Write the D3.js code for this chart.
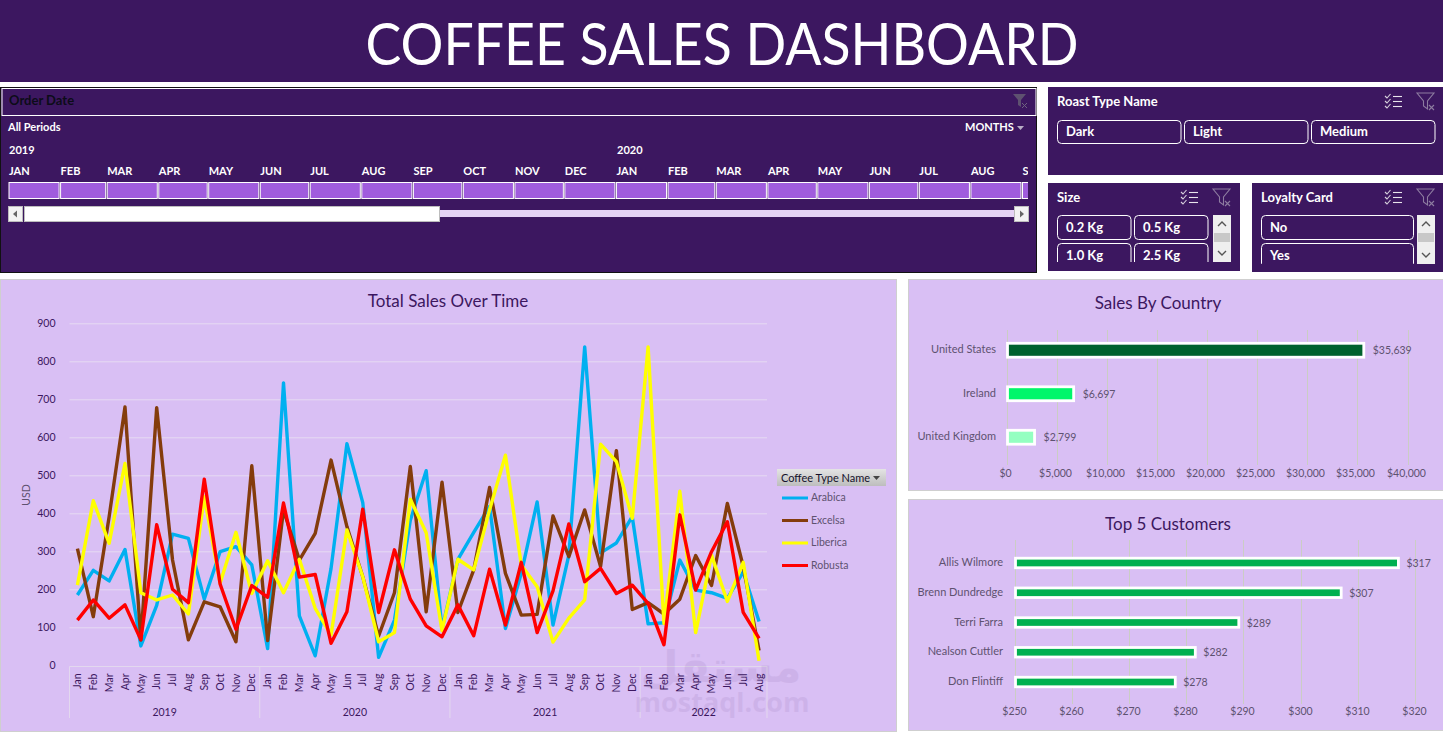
<!DOCTYPE html>
<html>
<head>
<meta charset="utf-8">
<title>Coffee Sales Dashboard</title>
<script src="https://cdn.jsdelivr.net/npm/d3@7"></script>
<style>
  html, body { margin: 0; padding: 0; background: #fff; overflow: hidden; }
  svg { display: block; font-family: Lato, "Open Sans", sans-serif; }
  .domain { display: none; }
</style>
</head>
<body>
<div id="chart"></div>
<script>
// data
const years = ["2019", "2020", "2021", "2022"];
const monthNames = ["Jan","Feb","Mar","Apr","May","Jun","Jul","Aug","Sep","Oct","Nov","Dec"];
const monthsPerYear = [12, 12, 12, 8];

const arabica = [185,250,222,305,51,158,345,334,174,299,312,264,
  44,743,130,25,255,583,428,21,119,382,512,95,
  279,350,418,97,242,430,106,290,838,296,322,391,
  109,112,277,198,191,176,246,115];
const excelsa = [307,128,391,680,67,678,277,67,167,154,62,525,
  65,409,277,347,540,365,233,77,191,523,141,482,
  139,251,468,242,132,134,393,286,409,260,565,147,
  165,135,174,289,210,426,260,39];
const liberica = [211,433,321,531,191,172,185,135,444,216,350,189,
  275,191,279,150,80,356,233,62,86,437,349,91,
  279,251,409,553,264,207,61,124,172,582,536,387,
  838,110,458,86,290,168,271,12];
const robusta = [119,172,124,159,67,370,200,165,490,214,95,210,
  179,427,232,239,58,141,411,139,304,174,104,75,
  159,78,253,106,271,86,196,372,220,255,189,211,
  163,54,396,198,299,378,139,71];

const seriesNames = ["Arabica", "Excelsa", "Liberica", "Robusta"];
const seriesValues = [arabica, excelsa, liberica, robusta];
const seriesColors = ["#00b0f0", "#843c0c", "#ffff00", "#ff0000"];
const salesTicks = [0,100,200,300,400,500,600,700,800,900];

const countries = ["United States", "Ireland", "United Kingdom"];
const countrySales = [35639, 6697, 2799];
const countryColors = ["#00612e", "#00f66b", "#94ffc1"];
const countryTicks = [0,5000,10000,15000,20000,25000,30000,35000,40000];

const customers = ["Allis Wilmore", "Brenn Dundredge", "Terri Farra", "Nealson Cuttler", "Don Flintiff"];
const customerSales = [317.1, 307.1, 289.2, 281.6, 278.1];
const customerTicks = [250,260,270,280,290,300,310,320];

const roastTypes = ["Dark", "Light", "Medium"];
const sizes = ["0.2 Kg", "0.5 Kg", "1.0 Kg", "2.5 Kg"];
const loyalty = ["No", "Yes"];

const purple = "#3c1760";
const lilac = "#d9bff4";
const greyText = "#5e5270";

const svg = d3.select("#chart").append("svg").attr("width", 1443).attr("height", 732);

function panel(x, y, w, h, fill, stroke) {
  return svg.append("rect").attr("x", x).attr("y", y).attr("width", w).attr("height", h)
    .attr("fill", fill).attr("stroke", stroke || "none");
}

function label(parent, x, y, str, size, color, weight, anchor) {
  return parent.append("text").attr("x", x).attr("y", y).text(str)
    .attr("font-size", size).attr("fill", color)
    .attr("font-weight", weight || 400).attr("text-anchor", anchor || "start");
}

// checklist + cleared filter icons on the slicers
function slicerIcons(x, y) {
  const g = svg.append("g").attr("transform", "translate(" + x + "," + y + ")")
    .attr("fill", "none").attr("stroke-width", 1.1);
  [1, 6, 11].forEach(d => {
    g.append("path").attr("d", "M0 " + d + "l2 2l3.5 -4").attr("stroke", "#d8d2dd");
    g.append("path").attr("d", "M8 " + (d + 0.5) + "h9").attr("stroke", "#e8e4ec");
  });
  g.append("path").attr("d", "M32 -2h17l-6.5 8v8l-4 -3v-5z").attr("stroke", "#8d7ca0");
  g.append("path").attr("d", "M44 10l5 5m0 -5l-5 5").attr("stroke", "#8d7ca0");
}

function slicerButton(parent, x, y, w, h, str, textY) {
  parent.append("rect").attr("x", x + 0.5).attr("y", y + 0.5).attr("width", w).attr("height", h)
    .attr("rx", 4).attr("fill", "none").attr("stroke", "#fff");
  label(parent, x + 9, y + textY, str, 13, "#fff", 700);
}

function scrollbar(x, y, h) {
  panel(x, y, 18, h, "#efefef");
  panel(x + 1, y + 18, 16, 9, "#c8c8c8");
  svg.append("path").attr("d", "M" + (x + 5) + " " + (y + 11) + "l4 -4l4 4").attr("fill", "none").attr("stroke", "#555").attr("stroke-width", 1.4);
  svg.append("path").attr("d", "M" + (x + 5) + " " + (y + h - 11) + "l4 4l4 -4").attr("fill", "none").attr("stroke", "#555").attr("stroke-width", 1.4);
}

// snap vertical grid lines to whole pixels so they all look the same
function snapTicks(g, scale) {
  g.selectAll(".tick").attr("transform", d => "translate(" + (Math.round(scale(d)) + 0.5) + ",0)");
  g.selectAll(".tick line").attr("stroke", "#cbcdc4");
}

// header
panel(0, 0, 1443, 82, purple);
label(svg, 722, 65, "COFFEE SALES DASHBOARD", 58, "#fff", 400, "middle")
  .attr("textLength", 713).attr("lengthAdjust", "spacingAndGlyphs");

// ---- timeline ----
panel(0.5, 87.5, 1036, 185, purple, "#111");
panel(2, 88.5, 1034, 27, purple, "#fff");
label(svg, 9, 105, "Order Date", 13, "#0c0c18", 700);
svg.append("path").attr("d", "M1013 94h13l-5 6v7l-3 -2v-5z").attr("fill", "#5e5170");
svg.append("path").attr("d", "M1022 103l5 5m0 -5l-5 5").attr("stroke", "#6f6380").attr("fill", "none");
label(svg, 8, 131, "All Periods", 11, "#fff", 700);
label(svg, 965, 131, "MONTHS", 11, "#fff", 700);
svg.append("path").attr("d", "M1017 126h7l-3.5 4z").attr("fill", "#b9aec6");
label(svg, 9, 154, "2019", 11, "#fff", 700);
label(svg, 617, 154, "2020", 11, "#fff", 700);

const tlStart = new Date(2019, 0, 1), tlEnd = new Date(2020, 8, 1);
const tlX = d3.scaleTime().domain([tlStart, tlEnd]).range([8.5, 1022]);
svg.append("clipPath").attr("id", "tl-clip").append("rect")
  .attr("x", 0).attr("y", 160).attr("width", 1028).attr("height", 45);
const tlMonths = d3.timeMonth.range(tlStart, new Date(2020, 9, 1));
const tlG = svg.append("g").attr("clip-path", "url(#tl-clip)");
tlG.selectAll("rect").data(tlMonths).join("rect")
  .attr("x", d => tlX(d) + 0.5)
  .attr("y", 182.5)
  .attr("width", d => tlX(d3.timeMonth.offset(d, 1)) - tlX(d) - 1.5)
  .attr("height", 16)
  .attr("fill", "#a05cdd").attr("stroke", "#fff");
tlG.selectAll("text").data(tlMonths).join("text")
  .attr("x", d => tlX(d) + 0.5)
  .attr("y", 175)
  .attr("font-size", 11).attr("font-weight", 700).attr("fill", "#fff")
  .text(d => monthNames[d.getMonth()].toUpperCase());

panel(440, 210, 574, 7, "#e5d3f5");
panel(24.5, 206.5, 415, 15, "#fff", "#bdbdbd");
panel(8.5, 206.5, 14, 15, "#f3f3f3", "#bdbdbd");
panel(1014.5, 206.5, 14, 15, "#f3f3f3", "#bdbdbd");
svg.append("path").attr("d", "M13 214l4 -3.5v7z").attr("fill", "#666");
svg.append("path").attr("d", "M1024 214l-4 -3.5v7z").attr("fill", "#666");

// ---- slicers ----
panel(1048, 87, 395, 88, purple);
label(svg, 1057, 106, "Roast Type Name", 13, "#fff", 700);
slicerIcons(1385, 95);
roastTypes.forEach((d, i) => slicerButton(svg, 1057 + i * 127, 120, 123.5, 23, d, 16));

panel(1048, 183, 192, 88, purple);
label(svg, 1057, 202, "Size", 13, "#fff", 700);
slicerIcons(1181, 191);
svg.append("clipPath").attr("id", "size-clip").append("rect").attr("x", 1050).attr("y", 212).attr("width", 165).attr("height", 50);
const sizeG = svg.append("g").attr("clip-path", "url(#size-clip)");
sizes.forEach((d, i) => slicerButton(sizeG, 1057 + (i % 2) * 77, 215 + Math.floor(i / 2) * 28, 73.5, 24, d, 17));
scrollbar(1213, 215, 47);

panel(1252, 183, 191, 89, purple);
label(svg, 1261, 202, "Loyalty Card", 13, "#fff", 700);
slicerIcons(1385, 191);
svg.append("clipPath").attr("id", "loyal-clip").append("rect").attr("x", 1255).attr("y", 212).attr("width", 160).attr("height", 52);
const loyalG = svg.append("g").attr("clip-path", "url(#loyal-clip)");
loyalty.forEach((d, i) => slicerButton(loyalG, 1261, 215 + i * 28, 152, 24, d, 17));
scrollbar(1417, 215, 49);

// ---- sales over time ----
panel(0.5, 279.5, 896, 452, lilac, "#cfcfcf");
label(svg, 448, 307, "Total Sales Over Time", 17, purple, 400, "middle");

const monthKeys = [];
years.forEach((y, i) => {
  monthNames.slice(0, monthsPerYear[i]).forEach(m => monthKeys.push(y + "-" + m));
});

const x = d3.scaleBand().domain(monthKeys).range([69.5, 767]);
const y = d3.scaleLinear().domain([0, 900]).range([665.3, 323.3]);

svg.append("g").attr("transform", "translate(69.5,0)")
  .call(d3.axisLeft(y).tickValues(salesTicks).tickSize(-697.5).tickPadding(14))
  .call(g => g.selectAll("line").attr("stroke", d => d === 0 ? "none" : "#e6daf2"))
  .call(g => g.selectAll("text").attr("font-size", 10.5).attr("font-family", "Lato").attr("fill", purple));

label(svg, 0, 0, "USD", 10.5, greyText, 400, "middle").attr("transform", "translate(30,495) rotate(-90)");

const axisY = 666.5;
svg.append("g").attr("transform", "translate(0," + axisY + ")")
  .call(d3.axisBottom(x).tickSize(0).tickFormat(d => d.split("-")[1]))
  .call(g => g.selectAll("text")
    .attr("font-size", 10.5).attr("font-family", "Lato").attr("fill", purple)
    .attr("text-anchor", "end")
    .attr("transform", "rotate(-90)")
    .attr("x", -7).attr("y", 0).attr("dy", "0.35em"));
svg.append("path").attr("d", d3.line()([[x.range()[0], axisY], [x.range()[1], axisY]]))
  .attr("stroke", "#e3d8ee").attr("fill", "none");

// year brackets under the months
let yearPos = 0;
years.forEach((yr, i) => {
  const first = monthKeys[yearPos];
  const last = monthKeys[yearPos + monthsPerYear[i] - 1];
  const x0 = x(first), x1 = x(last) + x.bandwidth();
  svg.append("line").attr("x1", x0).attr("x2", x0).attr("y1", axisY).attr("y2", 718).attr("stroke", "#e3d8ee");
  if (i === years.length - 1) {
    svg.append("line").attr("x1", x1).attr("x2", x1).attr("y1", axisY).attr("y2", 718).attr("stroke", "#e3d8ee");
  }
  label(svg, (x0 + x1) / 2, 715.5, yr, 10.5, purple, 400, "middle");
  yearPos += monthsPerYear[i];
});

const line = d3.line()
  .x((d, i) => x(monthKeys[i]) + x.bandwidth() / 2)
  .y(d => y(d));

svg.append("g").attr("fill", "none").attr("stroke-width", 3.4).attr("stroke-linejoin", "round")
  .selectAll("path").data(seriesValues).join("path")
  .attr("stroke", (d, i) => seriesColors[i])
  .attr("d", line);

// legend
const legendGrad = svg.append("linearGradient").attr("id", "legend-grad").attr("x2", 0).attr("y2", 1);
legendGrad.append("stop").attr("offset", 0).attr("stop-color", "#e4e4e4");
legendGrad.append("stop").attr("offset", 1).attr("stop-color", "#bdbdbd");
panel(777, 469, 109, 17, "url(#legend-grad)");
label(svg, 781, 482, "Coffee Type Name", 11, "#14102a", 400);
svg.append("path").attr("d", "M873 476h7l-3.5 4z").attr("fill", "#444");
const legendY = d3.scalePoint().domain(seriesNames).range([498, 565.5]);
const legendG = svg.append("g").selectAll("g").data(seriesNames).join("g");
legendG.append("line")
  .attr("x1", 782).attr("x2", 808)
  .attr("y1", d => legendY(d)).attr("y2", d => legendY(d))
  .attr("stroke", (d, i) => seriesColors[i]).attr("stroke-width", 3);
legendG.append("text").attr("x", 811).attr("y", d => legendY(d) + 3)
  .attr("font-size", 10.5).attr("fill", greyText).text(d => d);

// ---- sales by country ----
panel(908.5, 279.5, 535, 211, lilac, "#cfcfcf");
label(svg, 1158, 309, "Sales By Country", 17, purple, 400, "middle");

const cx = d3.scaleLinear().domain([0, 40000]).range([1006.5, 1407.5]);
const cy = d3.scaleBand().domain(countries).range([328.5, 459]).paddingInner(0.68).paddingOuter(0.34);

svg.append("g").attr("transform", "translate(0,330)")
  .call(d3.axisBottom(cx).tickValues(countryTicks).tickSize(135).tickPadding(5).tickFormat(d => "$" + d3.format(",")(d)))
  .call(g => snapTicks(g, cx))
  .call(g => g.selectAll("text").attr("dx", -2).attr("font-size", 10.5).attr("font-family", "Lato").attr("fill", greyText));

svg.append("g").selectAll("rect").data(countrySales).join("rect")
  .attr("x", cx(0) + 1)
  .attr("y", (d, i) => cy(countries[i]))
  .attr("width", d => cx(d) - cx(0) - 1)
  .attr("height", cy.bandwidth())
  .attr("fill", (d, i) => countryColors[i])
  .attr("stroke", "#fff").attr("stroke-width", 2.8);

svg.append("g").selectAll("text.cat").data(countries).join("text")
  .attr("x", 996).attr("y", d => cy(d) + cy.bandwidth() / 2 + 3)
  .attr("text-anchor", "end").attr("font-size", 11).attr("fill", greyText).text(d => d);

svg.append("g").selectAll("text.val").data(countrySales).join("text")
  .attr("x", d => cx(d) + 9)
  .attr("y", (d, i) => cy(countries[i]) + cy.bandwidth() / 2 + 4)
  .attr("font-size", 10.5).attr("fill", greyText)
  .text(d => "$" + d3.format(",")(d));

// ---- top customers ----
panel(908.5, 499.5, 535, 231, lilac, "#cfcfcf");
label(svg, 1168, 530, "Top 5 Customers", 17, purple, 400, "middle");

const px = d3.scaleLinear().domain([250, 320]).range([1014.5, 1415]);
const py = d3.scaleBand().domain(customers).range([548.1, 696.9]).paddingInner(0.68).paddingOuter(0.34);

svg.append("g").attr("transform", "translate(0,540)")
  .call(d3.axisBottom(px).tickValues(customerTicks).tickSize(164).tickPadding(4).tickFormat(d => "$" + d))
  .call(g => snapTicks(g, px))
  .call(g => g.selectAll("text").attr("dx", -1).attr("font-size", 10.5).attr("font-family", "Lato").attr("fill", greyText));

svg.append("g").selectAll("rect").data(customerSales).join("rect")
  .attr("x", px(250) + 1)
  .attr("y", (d, i) => py(customers[i]))
  .attr("width", d => px(d) - px(250) - 1)
  .attr("height", py.bandwidth())
  .attr("fill", "#00b050")
  .attr("stroke", "#fff").attr("stroke-width", 2.8);

svg.append("g").selectAll("text.cat").data(customers).join("text")
  .attr("x", 1003).attr("y", d => py(d) + py.bandwidth() / 2 + 3)
  .attr("text-anchor", "end").attr("font-size", 11).attr("fill", greyText).text(d => d);

svg.append("g").selectAll("text.val").data(customerSales).join("text")
  .attr("x", d => px(d) + 8)
  .attr("y", (d, i) => py(customers[i]) + py.bandwidth() / 2 + 4)
  .attr("font-size", 10.5).attr("fill", greyText)
  .text(d => "$" + Math.round(d));

// site watermark over the corner of the line chart
const mark = svg.append("g").attr("opacity", 0.07).attr("fill", "#3c1760").attr("pointer-events", "none");
mark.append("text").attr("x", 721).attr("y", 682).attr("text-anchor", "middle")
  .attr("font-size", 44).attr("font-weight", 700).attr("font-family", "DejaVu Sans").text("مستقل");
mark.append("text").attr("x", 722).attr("y", 712).attr("text-anchor", "middle")
  .attr("font-size", 27).attr("font-weight", 700).attr("font-family", "Open Sans").text("mostaql.com");
</script>
</body>
</html>
